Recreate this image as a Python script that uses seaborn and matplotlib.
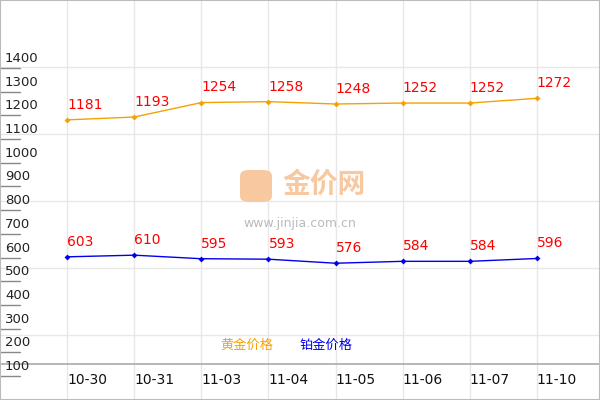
import matplotlib
matplotlib.use("Agg")
import matplotlib.pyplot as plt
import seaborn as sns
import pandas as pd
import matplotlib.transforms as mtrans
from matplotlib.patches import FancyBboxPatch

dates = ["10-30", "10-31", "11-03", "11-04", "11-05", "11-06", "11-07", "11-10"]
gold = [1181, 1193, 1254, 1258, 1248, 1252, 1252, 1272]
plat = [603, 610, 595, 593, 576, 584, 584, 596]
yticks = [100, 200, 300, 400, 500, 600, 700, 800, 900, 1000, 1100, 1200, 1300, 1400]

sns.set_style("white")
plt.rcParams['font.family'] = ['Noto Sans CJK SC', 'DejaVu Sans']

fig = plt.figure(figsize=(6, 4), dpi=100)
ax = fig.add_axes([0, 0, 1, 1])
px = 100 / 23.7  # value per pixel
ybot = 100 - 24 * px
ytop = 1400 + 68 * px
ax.set_ylim(ybot, ytop)
ax.set_xlim(-1, 7.94)

df = pd.DataFrame({"x": range(len(dates)), "gold": gold, "plat": plat})
for i in range(len(dates)):
    ax.axvline(i, color="#e8e8e8", lw=1, zorder=0)
for p in [67, 134, 201, 268, 335]:
    ax.axhline(1400 - (p - 68) * px, color="#e8e8e8", lw=1, zorder=0)
ax.axhline(1400 - (364 - 68) * px, color="#aaaaaa", lw=1.2, zorder=1)

sns.lineplot(data=df, x="x", y="gold", ax=ax, color="#f5a200", lw=1,
             marker="D", markersize=3, markeredgewidth=0)
sns.lineplot(data=df, x="x", y="plat", ax=ax, color="#0000ee", lw=1,
             marker="D", markersize=3, markeredgewidth=0)
for i, (g, p) in enumerate(zip(gold, plat)):
    ax.annotate(str(g), (i, g), xytext=(0, 8), textcoords="offset points",
                color="red", fontsize=10, family="DejaVu Sans")
    ax.annotate(str(p), (i, p), xytext=(0, 8), textcoords="offset points",
                color="red", fontsize=10, family="DejaVu Sans")

tr = mtrans.blended_transform_factory(ax.transAxes, ax.transData)
for v in yticks:
    ax.plot([0, 20 / 600], [v, v], color="#888888", lw=1, transform=tr, clip_on=False)
    ax.text(5 / 600, v + 3 * px, str(v), transform=tr, fontsize=9.5,
            color="#222222", family="DejaVu Sans", va="bottom", ha="left")
for i, d in enumerate(dates):
    ax.text(i, 100 - 4 * px, d, ha="left", va="center", fontsize=10,
            color="#111111", family="DejaVu Sans")

ax.set_xticks([]); ax.set_yticks([])
ax.set_xlabel(""); ax.set_ylabel("")
for s in ax.spines.values():
    s.set_color("#bbbbbb"); s.set_linewidth(1.5)

# watermark
fig.patches.append(FancyBboxPatch((240 / 600, 1 - 202 / 400), 32 / 600, 32 / 400,
                                  boxstyle="round,pad=0,rounding_size=0.015",
                                  transform=fig.transFigure, fc="#f8c9a0", ec="none"))
ax.text(282 / 600, 1400 - (185 - 68) * px, "金价网", transform=tr, ha="left",
        va="center", fontsize=20, color="#f8c9a0", weight="bold")
ax.text(0.5, 1400 - (224 - 68) * px, "www.jinjia.com.cn", transform=tr,
        ha="center", va="center", fontsize=9, color="#bbbbbb", family="DejaVu Sans")
ax.text(220 / 600, 1400 - (345 - 68) * px, "黄金价格", transform=tr,
        color="#f5a200", fontsize=9.5, va="center")
ax.text(300 / 600, 1400 - (345 - 68) * px, "铂金价格", transform=tr,
        color="#0000ee", fontsize=9.5, va="center")

fig.savefig("out.png", dpi=100)
